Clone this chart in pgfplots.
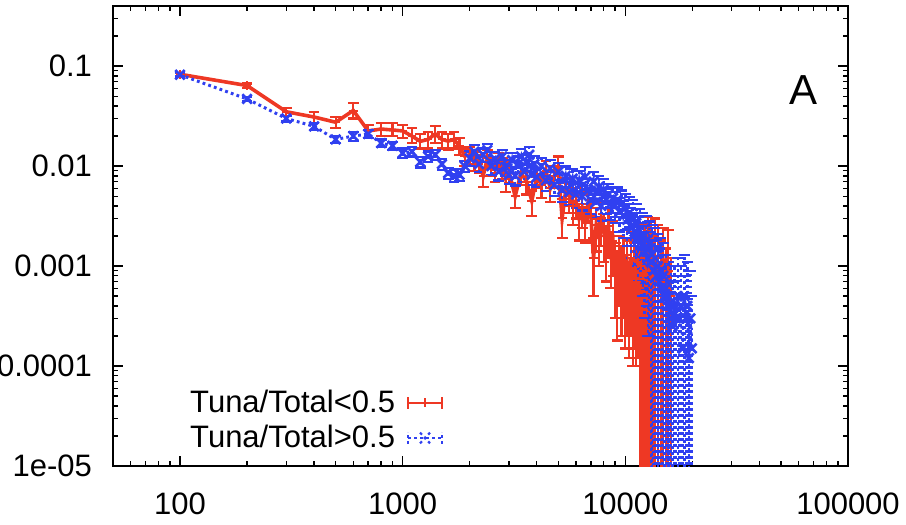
\documentclass[border=0pt]{standalone}
\usepackage{pgfplots}
\pgfplotsset{compat=1.18}
\usepackage{pgfplotstable}
\usepackage{fontspec}
\setmainfont{Liberation Sans}
\definecolor{gred}{RGB}{238,56,36}
\definecolor{gblue}{RGB}{48,64,240}

\pgfplotstableread{
x y lo hi
100 0.083 0.080 0.086
200 0.064 0.061 0.067
300 0.035 0.032 0.038
400 0.031 0.027 0.035
500 0.0275 0.024 0.031
600 0.036 0.030 0.043
700 0.0225 0.019 0.026
800 0.0235 0.020 0.027
900 0.023 0.020 0.027
1000 0.0225 0.019 0.026
1100 0.020 0.017 0.024
1200 0.0177 0.015 0.021
1300 0.0185 0.015 0.022
1400 0.021 0.017 0.025
1500 0.0185 0.015 0.022
1600 0.0178 0.0145 0.021
1700 0.0185 0.015 0.022
1800 0.0158 0.013 0.019
1900 0.0126 0.010 0.015
2000 0.0130 0.0105 0.0155
2100 0.0115 0.009 0.014
2200 0.0105 0.0085 0.013
2300 0.0080 0.0062 0.0095
2400 0.0120 0.0095 0.0145
2500 0.0100 0.008 0.012
2600 0.0092 0.007 0.0115
2700 0.0110 0.0085 0.0135
2800 0.0098 0.0075 0.012
2900 0.0075 0.0055 0.0095
3000 0.0088 0.0068 0.011
3200 0.0050 0.0038 0.0063
3400 0.0085 0.0065 0.0105
3600 0.0070 0.0052 0.0088
3800 0.0045 0.0032 0.0057
4000 0.0078 0.006 0.0096
4200 0.0065 0.0048 0.0082
4400 0.0090 0.0068 0.0112
4600 0.0060 0.0044 0.0076
4800 0.0080 0.006 0.010
5000 0.0095 0.0068 0.0125
5200 0.0030 0.0019 0.0047
5400 0.0058 0.0040 0.0076
5600 0.0050 0.0034 0.0066
5800 0.0040 0.0026 0.0054
6000 0.0045 0.0030 0.0060
6200 0.0030 0.0018 0.0042
6400 0.0038 0.0024 0.0052
6600 0.0028 0.0017 0.0039
6800 0.0042 0.0027 0.0057
7000 0.0032 0.0018 0.0046
7200 0.0012 0.0005 0.0019
7400 0.0026 0.0014 0.0038
7600 0.0020 0.0010 0.0030
7800 0.0030 0.0016 0.0044
8000 0.0022 0.0011 0.0033
8200 0.0016 0.0007 0.0025
8400 0.0025 0.0012 0.0038
8600 0.0014 0.0006 0.0022
8800 0.0018 0.0008 0.0028
9000 0.0010 0.0003 0.0017
9200 0.0008 0.00018 0.0014
9400 0.0012 0.0004 0.0020
9600 0.0009 0.0002 0.0016
9800 0.0011 0.0003 0.0019
10000 0.0007 0.00015 0.0013
10200 0.0010 0.0002 0.0018
10400 0.0006 0.00012 0.0011
10600 0.0012 0.0002 0.0022
10800 0.0005 0.0001 0.0009
11000 0.0009 0.00015 0.0017
11200 0.0007 0.0001 0.0014
11400 0.0011 0.00012 0.0021
11600 0.0006 0.000001 0.0014
11800 0.0010 0.000001 0.0021
12000 0.0008 0.000001 0.0018
12200 0.0012 0.000001 0.0026
12400 0.0009 0.000001 0.0020
12600 0.0014 0.000001 0.0031
12800 0.0010 0.000001 0.0024
13000 0.0013 0.000001 0.0028
13300 0.0008 0.000001 0.0020
13600 0.0012 0.000001 0.0030
14000 0.0010 0.000001 0.0026
14400 0.0007 0.000001 0.0018
14800 0.0011 0.000001 0.0024
15200 0.0006 0.000001 0.0015
15600 0.0009 0.000001 0.0023
16000 0.0005 0.000001 0.0012
}\redtab

\pgfplotstableread{
x y lo hi
100 0.082 0.079 0.085
200 0.047 0.045 0.049
300 0.030 0.028 0.032
400 0.025 0.023 0.027
500 0.0185 0.017 0.020
600 0.020 0.018 0.022
700 0.021 0.019 0.023
800 0.017 0.0155 0.0185
900 0.016 0.0145 0.0175
1000 0.0135 0.012 0.015
1100 0.014 0.0125 0.0155
1200 0.011 0.0097 0.0123
1300 0.0125 0.011 0.014
1400 0.0130 0.0115 0.0145
1500 0.0105 0.0092 0.0118
1600 0.0085 0.0074 0.0096
1700 0.0080 0.0069 0.0091
1800 0.0082 0.0071 0.0093
1900 0.0100 0.0088 0.0112
2000 0.0120 0.0100 0.0140
2100 0.0140 0.0118 0.0162
2200 0.0105 0.0087 0.0123
2300 0.0130 0.011 0.015
2400 0.0145 0.0122 0.0168
2500 0.0100 0.0082 0.0118
2600 0.0118 0.0098 0.0138
2700 0.0088 0.0072 0.0104
2800 0.0125 0.0104 0.0146
2900 0.0098 0.0080 0.0116
3000 0.0082 0.0066 0.0098
3100 0.0115 0.0094 0.0136
3200 0.0080 0.0064 0.0096
3300 0.0105 0.0085 0.0125
3400 0.0125 0.0102 0.0148
3500 0.0088 0.0070 0.0106
3600 0.0110 0.0089 0.0131
3700 0.0130 0.0106 0.0154
3800 0.0082 0.0065 0.0099
3900 0.0105 0.0084 0.0126
4000 0.0078 0.0062 0.0094
4200 0.0100 0.0079 0.0121
4400 0.0072 0.0056 0.0088
4600 0.0095 0.0074 0.0116
4800 0.0065 0.0050 0.0080
5000 0.0088 0.0068 0.0108
5200 0.0058 0.0044 0.0072
5400 0.0080 0.0061 0.0099
5600 0.0055 0.0041 0.0069
5800 0.0075 0.0057 0.0093
6000 0.0052 0.0038 0.0066
6200 0.0072 0.0054 0.0090
6400 0.0050 0.0036 0.0064
6600 0.0078 0.0058 0.0098
6800 0.0058 0.0042 0.0074
7000 0.0046 0.0033 0.0059
7200 0.0070 0.0052 0.0088
7400 0.0044 0.0031 0.0057
7600 0.0062 0.0045 0.0079
7800 0.0040 0.0028 0.0052
8000 0.0058 0.0042 0.0074
8200 0.0046 0.0033 0.0059
8400 0.0052 0.0038 0.0066
8600 0.0042 0.0029 0.0055
8800 0.0048 0.0034 0.0062
9000 0.0040 0.0027 0.0055
9200 0.0046 0.0031 0.0061
9400 0.0035 0.0022 0.0048
9600 0.0042 0.0027 0.0057
9800 0.0032 0.0019 0.0045
10000 0.0038 0.0023 0.0053
10200 0.0029 0.0016 0.0042
10400 0.0034 0.0019 0.0049
10600 0.0025 0.0012 0.0038
10800 0.0031 0.0016 0.0046
11000 0.0022 0.0010 0.0034
11200 0.0027 0.0012 0.0042
11400 0.0019 0.0007 0.0031
11600 0.0023 0.0009 0.0037
11800 0.0016 0.0005 0.0027
12000 0.0020 0.0006 0.0034
12200 0.0014 0.0003 0.0025
12400 0.0018 0.0004 0.0032
12600 0.0012 0.0002 0.0022
12800 0.0015 0.0002 0.0028
13000 0.0011 0.000001 0.0022
13200 0.0013 0.000001 0.0026
13400 0.0009 0.000001 0.0018
13600 0.0012 0.000001 0.0024
13800 0.0008 0.000001 0.0016
14000 0.0010 0.000001 0.0021
14200 0.0007 0.000001 0.0015
14400 0.0009 0.000001 0.0019
14600 0.0006 0.000001 0.0013
14800 0.0008 0.000001 0.0017
15000 0.0005 0.000001 0.0011
15200 0.0006 0.000001 0.0013
15400 0.0004 0.000001 0.0009
15600 0.0005 0.000001 0.0011
15800 0.0003 0.000001 0.0007
16000 0.0004 0.000001 0.0010
16300 0.00025 0.000001 0.0007
16600 0.0004 0.000001 0.0010
16900 0.0003 0.000001 0.0008
17200 0.0005 0.000001 0.0012
17500 0.0003 0.000001 0.0008
17800 0.0004 0.000001 0.0010
18100 0.00015 0.000001 0.0005
18400 0.0005 0.000001 0.0013
18700 0.0003 0.000001 0.0008
19000 0.0004 0.000001 0.0011
19300 0.00012 0.000001 0.0005
19600 0.0003 0.000001 0.0009
19900 0.00015 0.000001 0.0005
}\bluetab

\begin{document}
\begin{tikzpicture}
\begin{axis}[
  xmode=log, ymode=log,
  scale only axis, width=367.5pt, height=230pt,
  xmin=50, xmax=100000, ymin=1e-5, ymax=0.4,
  xtick={100,1000,10000,100000},
  xticklabels={100,1000,10000,100000},
  minor xtick={60,70,80,90,200,300,400,500,600,700,800,900,2000,3000,4000,5000,6000,7000,8000,9000,20000,30000,40000,50000,60000,70000,80000,90000},
  ytick={1e-5,1e-4,1e-3,1e-2,1e-1},
  yticklabels={1e-05,0.0001,0.001,0.01,0.1},
  minor ytick={2e-5,3e-5,4e-5,5e-5,6e-5,7e-5,8e-5,9e-5,2e-4,3e-4,4e-4,5e-4,6e-4,7e-4,8e-4,9e-4,0.002,0.003,0.004,0.005,0.006,0.007,0.008,0.009,0.02,0.03,0.04,0.05,0.06,0.07,0.08,0.09,0.2,0.3},
  tick align=inside,
  major tick length=5pt, minor tick length=2.5pt,
  every tick/.style={black, line width=0.7pt},
  axis line style={line width=1pt, black},
  tick label style={font=\fontsize{15.5}{18}\selectfont},
  xticklabel style={yshift=-10pt},
  yticklabel style={xshift=-7pt},
  legend plot pos=right,
  legend cell align=right,
  legend style={draw=none, fill=none, at={(rel axis cs:0.455,0.015)}, anchor=south east,
    font=\fontsize{15.5}{18}\selectfont, row sep=1pt, column sep=4pt, inner sep=2pt},
]
\addplot[gred, line width=1.8pt, mark=+, mark size=2.2pt, mark options={line width=1pt},
  legend image code/.code={\draw[gred, line width=1pt] (0pt,0pt)--(17pt,0pt) (0pt,-3pt)--(0pt,3pt) (17pt,-3pt)--(17pt,3pt) (8.5pt,-2.2pt)--(8.5pt,2.2pt);},
  error bars/.cd, y dir=both, y explicit,
  error bar style={line width=1.1pt, gred, solid},
  error mark options={rotate=90, mark size=2.7pt, gred, line width=1.1pt}]
  table[x=x, y=y, y error plus expr=\thisrow{hi}-\thisrow{y}, y error minus expr=\thisrow{y}-\thisrow{lo}] {\redtab};
\addlegendentry{Tuna/Total<0.5}
\addplot[gblue, line width=1.5pt, dash pattern=on 1.4pt off 1.6pt, mark=x, mark size=3.3pt, mark options={solid, line width=1.3pt},
  legend image code/.code={\draw[gblue, line width=1pt, dash pattern=on 1.4pt off 1.6pt] (0pt,0pt)--(17pt,0pt) (0pt,-3pt)--(0pt,3pt) (17pt,-3pt)--(17pt,3pt); \draw[gblue, line width=1.1pt] (6pt,-2.7pt)--(11pt,2.7pt) (6pt,2.7pt)--(11pt,-2.7pt);},
  error bars/.cd, y dir=both, y explicit,
  error bar style={line width=1.2pt, gblue, dash pattern=on 1.4pt off 1.6pt},
  error mark options={rotate=90, mark size=2.7pt, gblue, line width=1.1pt, solid}]
  table[x=x, y=y, y error plus expr=\thisrow{hi}-\thisrow{y}, y error minus expr=\thisrow{y}-\thisrow{lo}] {\bluetab};
\addlegendentry{Tuna/Total>0.5}
\node[font=\fontsize{21}{24}\selectfont] at (rel axis cs:0.939,0.817) {A};
\end{axis}
\pgfresetboundingbox
\path[use as bounding box] ([xshift=-56.5pt,yshift=-29pt]current axis.south west) rectangle ([xshift=29pt,yshift=3pt]current axis.north east);
\end{tikzpicture}
\end{document}
